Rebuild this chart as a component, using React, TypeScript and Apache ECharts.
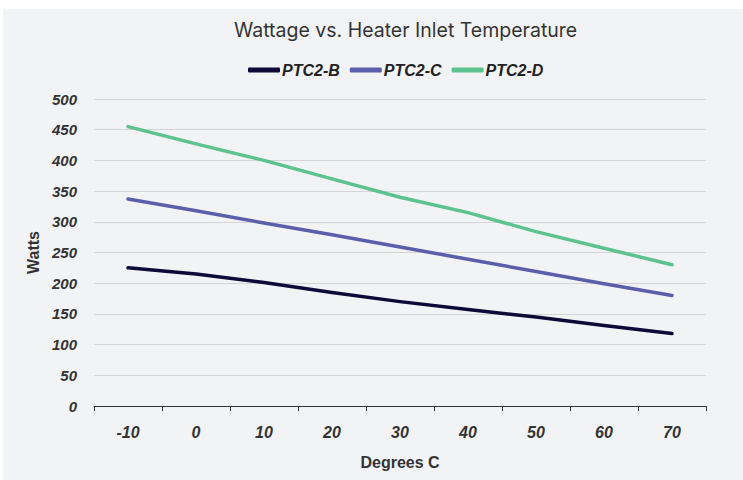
import React, { useEffect, useRef } from "react";
import * as echarts from "echarts";

const categories = ["-10", "0", "10", "20", "30", "40", "50", "60", "70"];
const ptc2B = [225, 215, 201, 185, 170, 157, 145, 131, 118];
const ptc2C = [337, 318, 298, 279, 259, 239, 219, 199, 180];
const ptc2D = [455, 427, 400, 370, 340, 315, 284, 257, 230];
const seriesNames = ["PTC2-B", "PTC2-C", "PTC2-D"];
const colors = ["#0c0a36", "#5a5eab", "#5cc28e"];

const FONT = "'Liberation Sans', Arial, sans-serif";

export default function App() {
  const ref = useRef<HTMLDivElement>(null);
  useEffect(() => {
    if (!ref.current) return;
    const chart = echarts.init(ref.current, undefined, { renderer: "svg" });
    const data = [ptc2B, ptc2C, ptc2D];
    chart.setOption({
      animation: false,
      backgroundColor: "#f2f3f5",
      title: {
        text: "Wattage vs. Heater Inlet Temperature",
        left: 226,
        top: 6,
        textStyle: { fontFamily: "Inter, Roboto, sans-serif", fontSize: 19.5, fontWeight: "normal", color: "#333" },
      },
      legend: {
        left: 240,
        top: 48,
        icon: "roundRect",
        itemWidth: 32,
        itemHeight: 5,
        itemGap: 10,
        data: seriesNames,
        textStyle: { fontFamily: FONT, fontSize: 16, fontWeight: "bold", fontStyle: "italic", color: "#222", padding: [0, 0, 0, -3] },
      },
      grid: { left: 91, right: 37, top: 90, bottom: 74, containLabel: false },
      xAxis: {
        type: "category",
        data: categories,
        boundaryGap: true,
        axisLine: { lineStyle: { color: "#333", width: 1 } },
        axisTick: { show: true, length: 5, lineStyle: { color: "#333" } },
        axisLabel: { margin: 18, fontFamily: FONT, fontSize: 16, fontWeight: "bold", fontStyle: "italic", color: "#333" },
        name: "Degrees C",
        nameLocation: "middle",
        nameGap: 48,
        nameTextStyle: { fontFamily: FONT, fontSize: 16, fontWeight: "bold", color: "#333" },
      },
      yAxis: {
        type: "value",
        min: 0,
        max: 500,
        interval: 50,
        axisLine: { show: false },
        axisTick: { show: false },
        splitLine: { lineStyle: { color: "#d4d4d6", width: 1 } },
        axisLabel: { margin: 17, fontFamily: FONT, fontSize: 15, fontWeight: "bold", fontStyle: "italic", color: "#333" },
        name: "Watts",
        nameLocation: "middle",
        nameGap: 51,
        nameTextStyle: { fontFamily: FONT, fontSize: 16, fontWeight: "bold", color: "#333" },
      },
      series: seriesNames.map((n, i) => ({
        name: n,
        type: "line",
        data: data[i],
        symbol: "none",
        color: colors[i],
        lineStyle: { width: 3.5, color: colors[i], cap: "round", join: "round" },
      })),
    });
    return () => chart.dispose();
  }, []);
  return (
    <div style={{ position: "fixed", left: 0, top: 0, width: 743, height: 480, background: "#fff" }}>
      <div ref={ref} style={{ position: "absolute", left: 3, top: 9, width: 740, height: 471 }} />
    </div>
  );
}
